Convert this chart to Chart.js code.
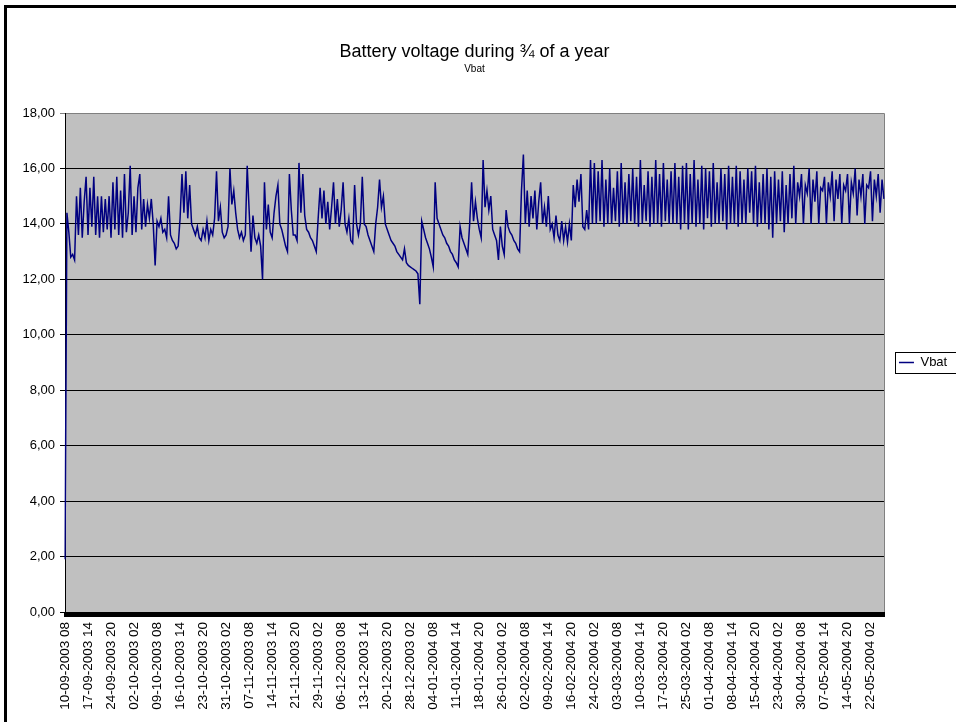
<!DOCTYPE html>
<html><head><meta charset="utf-8">
<script src="https://cdn.jsdelivr.net/npm/chart.js@4/dist/chart.umd.min.js"></script>
<style>
html,body{margin:0;padding:0;overflow:hidden;background:#fff;width:956px;height:722px;}
#frame{position:absolute;left:4px;top:5px;border:3px solid #000;width:1000px;height:740px;background:#fff;}
canvas{display:block;}
</style></head><body>
<div id="frame"><canvas id="c" width="1000" height="740"></canvas></div>
<script>
const chartTitle = 'Battery voltage during \u00be of a year';
const seriesName = 'Vbat';
const tickLabels = ["10-09-2003 08","17-09-2003 14","24-09-2003 20","02-10-2003 02","09-10-2003 08","16-10-2003 14","23-10-2003 20","31-10-2003 02","07-11-2003 08","14-11-2003 14","21-11-2003 20","29-11-2003 02","06-12-2003 08","13-12-2003 14","20-12-2003 20","28-12-2003 02","04-01-2004 08","11-01-2004 14","18-01-2004 20","26-01-2004 02","02-02-2004 08","09-02-2004 14","16-02-2004 20","24-02-2004 02","03-03-2004 08","10-03-2004 14","17-03-2004 20","25-03-2004 02","01-04-2004 08","08-04-2004 14","15-04-2004 20","23-04-2004 02","30-04-2004 08","07-05-2004 14","14-05-2004 20","22-05-2004 02"];
const samplesPerLabel = 12;
const yTicks = [0,2,4,6,8,10,12,14,16,18];
const vbat = [
1.9,14.4,13.7,12.8,12.9,12.7,15.0,13.6,15.3,13.5,14.8,15.7,
13.6,15.3,13.9,15.7,13.6,15.0,13.5,15.0,13.7,14.9,13.8,15.0,
13.5,15.5,13.8,15.7,13.6,15.2,13.5,15.8,13.7,14.4,16.1,13.6,
15.0,13.7,15.3,15.8,13.8,14.9,13.9,14.7,14.2,14.9,14.0,12.5,
14.1,13.9,14.2,13.7,13.8,13.5,15.0,13.6,13.4,13.3,13.1,13.2,
14.2,15.8,14.4,15.9,14.2,15.4,14.0,13.8,13.6,13.9,13.5,13.4,
13.8,13.5,14.1,13.4,13.8,13.6,14.2,15.9,14.1,14.6,13.7,13.5,
13.6,13.9,16.0,14.7,15.2,14.4,13.8,13.5,13.7,13.4,13.6,16.1,
14.5,13.0,14.3,13.5,13.3,13.6,13.2,12.0,15.5,13.8,14.7,13.7,
13.5,14.4,15.0,15.4,14.0,13.8,13.5,13.2,13.0,15.8,14.5,13.6,
13.6,13.4,16.2,14.4,15.8,14.3,13.8,13.7,13.5,13.4,13.2,13.0,
14.2,15.3,14.2,15.2,14.0,14.8,13.8,14.6,15.5,14.0,14.9,13.9,
14.5,15.5,14.0,13.7,14.2,13.4,13.3,15.4,14.0,13.6,14.0,15.7,
14.0,13.9,13.6,13.4,13.2,13.0,14.0,14.6,15.6,14.6,15.0,14.0,
13.8,13.6,13.4,13.3,13.2,13.0,12.9,12.8,12.7,13.1,12.6,12.5,
12.45,12.4,12.35,12.3,12.2,11.1,14.1,13.8,13.5,13.3,13.1,12.8,
12.45,15.5,14.2,14.0,13.8,13.6,13.5,13.3,13.2,13.0,12.9,12.7,
12.6,12.45,13.9,13.5,13.3,13.1,12.9,14.0,15.5,14.1,14.8,14.2,
13.8,13.5,16.3,14.6,15.2,14.5,15.0,13.8,13.6,13.4,12.7,13.9,
13.2,12.9,14.5,13.9,13.7,13.6,13.4,13.3,13.1,13.0,15.2,16.5,
14.0,15.2,13.9,15.0,14.2,15.2,13.8,14.8,15.5,14.0,14.6,13.9,
15.0,13.8,14.0,13.5,14.3,13.6,13.4,14.1,13.4,13.9,13.35,14.0,
13.4,15.4,14.6,15.6,14.8,15.8,13.9,13.8,14.5,13.8,16.3,14.0,
16.2,14.0,15.9,14.1,16.3,13.9,15.6,14.0,16.0,14.0,15.3,14.1,
15.9,13.9,16.2,14.0,15.5,14.0,15.8,14.1,16.0,14.0,15.7,13.9,
16.3,14.0,15.4,14.1,15.9,13.9,15.7,14.0,16.3,14.0,15.8,13.9,
16.2,14.1,15.6,14.0,15.9,14.0,16.2,14.0,15.7,13.8,16.1,14.0,
16.2,13.8,15.8,14.0,16.3,13.9,15.6,14.0,16.1,13.8,16.0,14.2,
15.9,13.9,16.2,14.0,15.5,14.0,16.0,14.1,15.8,13.8,16.1,14.0,
15.7,14.0,16.1,13.9,15.9,14.0,15.6,14.0,16.0,14.4,15.9,14.0,
16.1,13.9,15.5,14.0,15.8,14.0,16.0,13.8,15.7,13.5,15.9,14.0,
15.6,14.1,15.9,13.7,15.4,14.0,15.8,14.2,16.1,14.0,15.5,15.0,
15.8,14.0,15.4,15.1,16.0,14.0,15.6,14.8,15.9,14.0,15.3,15.2,
15.7,14.0,15.5,15.0,15.9,14.1,15.6,14.9,15.8,14.0,15.4,15.2,
15.8,14.0,15.5,15.1,16.0,14.3,15.6,15.0,15.8,14.0,15.4,15.3,
15.9,14.1,15.6,15.0,15.8,14.4,15.6,14.9
];
const categories = vbat.map((v, i) => (i % samplesPerLabel === 0 && tickLabels[i / samplesPerLabel]) ? tickLabels[i / samplesPerLabel] : '');

Chart.defaults.font.family = '"Liberation Sans", Arial, sans-serif';
Chart.defaults.color = '#000';

const plotBg = {
  id: 'plotBg',
  beforeDraw(chart) {
    const {ctx, chartArea: a} = chart;
    ctx.save();
    ctx.fillStyle = '#c0c0c0';
    ctx.fillRect(a.left, a.top, a.right - a.left, a.bottom - a.top);
    ctx.strokeStyle = '#808080';
    ctx.lineWidth = 1;
    ctx.beginPath();
    ctx.moveTo(a.left, Math.round(a.top) + 0.5);
    ctx.lineTo(Math.round(a.right) + 0.5, Math.round(a.top) + 0.5);
    ctx.lineTo(Math.round(a.right) + 0.5, a.bottom);
    ctx.stroke();
    ctx.restore();
  }
};
const legendBox = {
  id: 'legendBox',
  afterDraw(chart) {
    const lg = chart.legend;
    if (!lg || !lg.legendHitBoxes || !lg.legendHitBoxes.length) return;
    const hb = lg.legendHitBoxes[0];
    const ctx = chart.ctx;
    ctx.save();
    ctx.strokeStyle = '#000';
    ctx.lineWidth = 1;
    ctx.strokeRect(Math.round(hb.left - 4) + 0.5, Math.round(hb.top - 4) + 0.5, 200, Math.round(hb.height + 8));
    ctx.restore();
  }
};

new Chart(document.getElementById('c'), {
  type: 'line',
  data: {
    labels: categories,
    datasets: [{
      label: seriesName,
      data: vbat,
      borderColor: '#000080',
      backgroundColor: '#000080',
      borderWidth: 1.5,
      pointRadius: 0,
      pointHoverRadius: 0,
      pointStyle: 'line',
      tension: 0,
      fill: false
    }]
  },
  options: {
    responsive: false,
    animation: false,
    devicePixelRatio: 1,
    events: [],
    layout: { padding: { left: 0, right: 49.8, top: 0, bottom: 0 } },
    plugins: {
      title: {
        display: true, text: chartTitle, fullSize: false, color: '#000',
        font: { size: 18, weight: 'normal' },
        padding: { top: 33, bottom: 0 }
      },
      subtitle: {
        display: true, text: seriesName, fullSize: false, color: '#000',
        font: { size: 10, weight: 'normal' },
        padding: { top: 1, bottom: 37.4 }
      },
      legend: {
        display: true, position: 'right', fullSize: false,
        labels: {
          usePointStyle: true, pointStyle: 'line', pointStyleWidth: 15,
          padding: 15, color: '#000', font: { size: 13 }
        }
      },
      tooltip: { enabled: false }
    },
    scales: {
      x: {
        type: 'category',
        offset: false,
        grid: { drawOnChartArea: false, drawTicks: true, tickLength: 5, color: '#000', lineWidth: 2 },
        border: { display: true, color: '#000', width: 1 },
        ticks: { autoSkip: false, maxRotation: 90, minRotation: 90, padding: 5, color: '#000', font: { size: 13.5 } },
        afterFit(s) { s.height = 136; }
      },
      y: {
        min: yTicks[0], max: yTicks[yTicks.length - 1],
        afterBuildTicks(s) { s.ticks = yTicks.map(v => ({ value: v })); },
        grid: {
          color: c => (c.tick && c.tick.value === 18) ? '#808080' : '#000',
          lineWidth: 1, tickLength: 5, drawTicks: true
        },
        border: { display: true, color: '#000', width: 1 },
        ticks: { padding: 5, color: '#000', font: { size: 13 }, callback: v => Number(v).toFixed(2).replace('.', ',') },
        afterFit(s) { s.width = 58; }
      }
    }
  },
  plugins: [plotBg, legendBox]
});
</script></body></html>
